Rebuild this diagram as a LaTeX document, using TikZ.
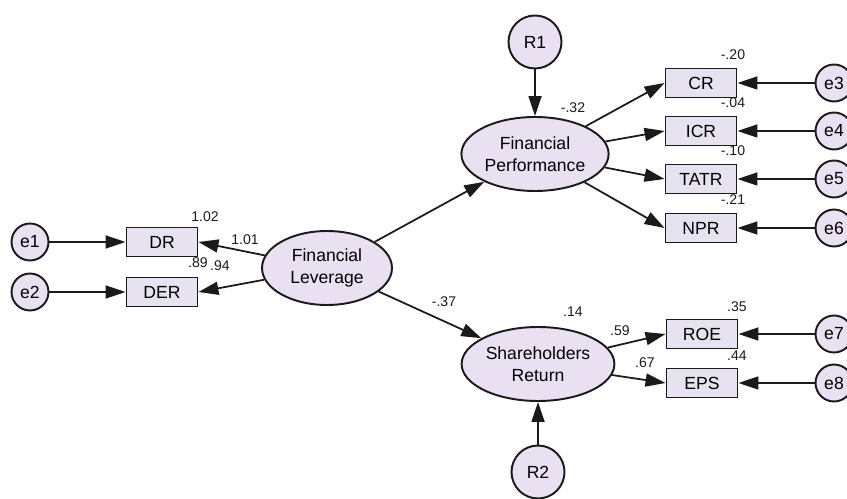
\documentclass[tikz,border=0pt]{standalone}
\usepackage{fontspec}
\setmainfont{Liberation Sans}
\usetikzlibrary{arrows.meta,shapes.geometric}
\definecolor{linemain}{HTML}{1A1A1A}
\definecolor{latentfill}{HTML}{E9E0F1}
\definecolor{boxfill}{HTML}{E6E2EF}
\tikzset{link/.style={-{Triangle[length=4mm,width=2.6mm]},line width=1pt,linemain},
latent/.style={ellipse,draw=linemain,line width=1.1pt,fill=latentfill,minimum width=2.6cm,minimum height=1.48cm,align=center,inner sep=1pt,font=\fontsize{10}{12.5}\selectfont},
obs/.style={rectangle,draw=linemain,line width=1.1pt,fill=boxfill,minimum width=1.42cm,minimum height=0.58cm,inner sep=1pt,font=\fontsize{10}{12}\selectfont},
err/.style={circle,draw=linemain,line width=1.1pt,fill=latentfill,minimum size=0.74cm,inner sep=0pt,font=\fontsize{10}{12}\selectfont},
dist/.style={err,minimum size=1.06cm},
est/.style={font=\fontsize{8}{9}\selectfont,text=linemain}}

\begin{document}
\begin{tikzpicture}[x=0.02cm,y=-0.02cm]
\useasboundingbox (0,0) rectangle (847,499);
% latent variables
\node[latent] (fl) at (327,268) {Financial\\Leverage};
\node[latent] (fp) at (535,154) {Financial\\Performance};
\node[latent] (sr) at (538,364) {Shareholders\\Return};
\node[dist] (r1) at (535,42) {R1};
\node[dist] (r2) at (538,472) {R2};
\draw[link] (r1)--(fp);
\draw[link] (r2)--(sr);
\draw[link] (fl)--(fp);
\draw[link] (fl)--(sr);
\node[est] at (573,108) {-.32};
\node[est] at (444,302) {-.37};
\node[est] at (573,312) {.14};
% leverage indicators
\node[obs] (dr) at (162,242) {DR};
\node[obs] (der) at (162,292) {DER};
\node[err] (e1) at (30,242) {e1};
\node[err] (e2) at (30,292) {e2};
\draw[link] (e1)--(dr);
\draw[link] (e2)--(der);
\draw[link] (fl)--(dr.east);
\draw[link] (fl)--(der.east);
\node[est] at (205,217) {1.02};
\node[est] at (245,240) {1.01};
\node[est] at (198,263) {.89};
\node[est] at (220,266) {.94};
% performance indicators
\foreach \nm/\txt/\y/\e/\v in {cr/CR/83/e3/-.20,icr/ICR/131/e4/-.04,tatr/TATR/179/e5/-.10,npr/NPR/228/e6/-.21} {
\node[obs] (\nm) at (701,\y) {\txt};
\node[err] (\e) at (834,\y) {\e};
\draw[link] (\e)--(\nm);
\draw[link] (fp)--(\nm.west);
\node[est] at (733,\y-28) {\v};
}
% return indicators
\foreach \nm/\txt/\y/\e/\v in {roe/ROE/334/e7/.35,eps/EPS/383/e8/.44} {
\node[obs] (\nm) at (702,\y) {\txt};
\node[err] (\e) at (834,\y) {\e};
\draw[link] (\e)--(\nm);
\draw[link] (sr)--(\nm.west);
\node[est] at (737,\y-27) {\v};
}
\node[est] at (620,331) {.59};
\node[est] at (645,363) {.67};
\end{tikzpicture}
\end{document}
